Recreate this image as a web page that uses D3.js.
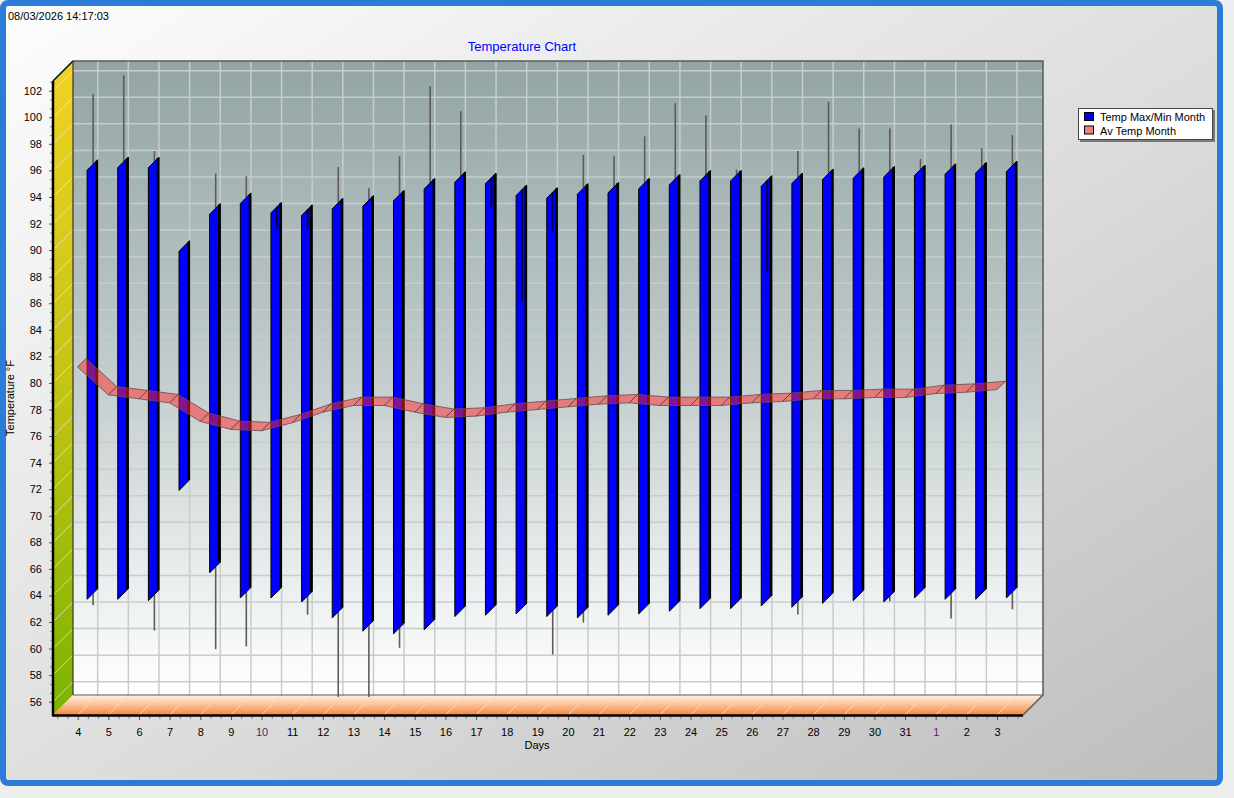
<!DOCTYPE html>
<html>
<head>
<meta charset="utf-8">
<script src="https://cdnjs.cloudflare.com/ajax/libs/d3/7.8.5/d3.min.js"></script>
<style>
body { margin: 0; background: #eeeeee; }
svg { display: block; font-family: "Liberation Sans", Arial, sans-serif; }
</style>
</head>
<body>
<svg width="1234" height="798"></svg>
<script>
// ################################### Data #######################################

var days = ["4", "5", "6", "7", "8", "9", "10", "11", "12", "13", "14", "15", "16", "17", "18", "19",
            "20", "21", "22", "23", "24", "25", "26", "27", "28", "29", "30", "31", "1", "2", "3"];

// body of each candle (month max / month min)
var tempMaxMonth = [95.3, 95.5, 95.5, 89.2, 92.0, 92.8, 92.1, 91.9, 92.4, 92.6, 93.0, 93.9, 94.4, 94.3, 93.4, 93.2,
                    93.5, 93.6, 93.9, 94.2, 94.5, 94.5, 94.1, 94.3, 94.6, 94.7, 94.8, 94.9, 95.0, 95.1, 95.2];
var tempMinMonth = [63.0, 63.0, 62.9, 71.2, 65.0, 63.1, 63.1, 62.8, 61.6, 60.6, 60.4, 60.7, 61.7, 61.8, 61.9, 61.7,
                    61.6, 61.8, 61.9, 62.1, 62.3, 62.3, 62.5, 62.4, 62.7, 62.9, 62.8, 63.1, 63.0, 63.0, 63.1];

// whiskers (day high / day low)
var tempHigh = [100.6, 102.0, 96.3, 89.2, 94.6, 94.4, 90.4, 90.4, 95.1, 93.5, 95.9, 101.2, 99.3, 92.1, 85.0, 90.2,
                96.0, 95.9, 97.4, 99.9, 99.0, 94.9, 87.2, 96.3, 100.0, 98.0, 98.0, 95.7, 98.3, 96.5, 97.5];
var tempLow = [62.1, 63.0, 60.2, 71.2, 58.8, 59.0, 63.1, 61.4, 55.2, 55.2, 58.9, 60.7, 61.7, 61.8, 61.9, 58.4,
               60.8, 61.8, 61.9, 62.1, 62.3, 62.3, 62.5, 61.4, 62.7, 62.9, 62.4, 63.1, 61.1, 63.0, 61.8];

var avTempMonth = [81.2, 79.1, 78.8, 78.5, 77.1, 76.5, 76.4, 77.0, 77.8, 78.3, 78.3, 77.8, 77.4, 77.5, 77.8, 78.0,
                   78.2, 78.4, 78.5, 78.3, 78.3, 78.3, 78.5, 78.6, 78.8, 78.8, 78.9, 78.9, 79.2, 79.3, 79.5];

var yTicks = d3.range(56, 103, 2);

// ################################### Layout #######################################

var svg = d3.select('svg');
var defs = svg.append('defs');

// front plane of the 3d box and the depth offset
var front = {l: 53, r: 1023, t: 81, b: 715};
var depth = {dx: 20, dy: -20};

var barZ = [0.47, 1.0];   // depth slice used by the candles
var whiskerZ = 0.77;
var ribbonZ = 0.42;

var xScale = d3.scaleLinear().domain([-0.806, 30.849]).range([front.l, front.r]);
var yScale = d3.scaleLinear().domain([55, 102.73]).range([front.b, front.t]);

function proj(i, v, z) {
    return [xScale(i) + depth.dx * z, yScale(v) + depth.dy * z];
}

function addGradient(id, x2, y2, stops) {
    var g = defs.append('linearGradient').attr('id', id)
        .attr('x1', 0).attr('y1', 0).attr('x2', x2).attr('y2', y2);
    stops.forEach(function(s) {
        g.append('stop').attr('offset', s[0]).attr('stop-color', s[1]);
    });
}

addGradient('bgGrad', 1, 1, [[0, '#fdfdfd'], [0.55, '#dcdcdc'], [1, '#bdbdbd']]);
addGradient('wallGrad', 0, 1, [[0, '#92a4a4'], [0.5, '#c3cdcd'], [0.85, '#eef1f1'], [1, '#ffffff']]);
addGradient('sideGrad', 0, 1, [[0, '#f0d224'], [0.5, '#c4c414'], [1, '#7cb400']]);
addGradient('floorGrad', 0, 1, [[0, '#fff3ea'], [0.5, '#fbbf94'], [1, '#f5873a']]);

// ################################### Window frame #######################################

svg.append('rect')
    .attr('x', 3).attr('y', 3).attr('width', 1217).attr('height', 780).attr('rx', 5)
    .attr('fill', 'url(#bgGrad)')
    .attr('stroke', '#2b7bd8').attr('stroke-width', 6);

svg.append('text').attr('x', 8).attr('y', 20)
    .attr('font-size', 11).text('08/03/2026 14:17:03');

svg.append('text').attr('x', 522).attr('y', 51)
    .attr('text-anchor', 'middle').attr('font-size', 13).attr('fill', '#0000ff')
    .text('Temperature Chart');

// ################################### Walls #######################################

var wallG = svg.append('g');

// back wall
wallG.append('rect')
    .attr('x', front.l + depth.dx).attr('y', front.t + depth.dy)
    .attr('width', front.r - front.l).attr('height', front.b - front.t)
    .attr('fill', 'url(#wallGrad)');

wallG.selectAll('.hgrid').data(yTicks).enter().append('line')
    .attr('x1', front.l + depth.dx).attr('x2', front.r + depth.dx)
    .attr('y1', function(d) { return yScale(d) + depth.dy; })
    .attr('y2', function(d) { return yScale(d) + depth.dy; })
    .attr('stroke', '#c9cccc').attr('stroke-width', 1.5);

wallG.selectAll('.vgrid').data(days).enter().append('line')
    .attr('x1', function(d, i) { return xScale(i) + depth.dx; })
    .attr('x2', function(d, i) { return xScale(i) + depth.dx; })
    .attr('y1', front.t + depth.dy).attr('y2', front.b + depth.dy)
    .attr('stroke', '#c9cccc').attr('stroke-width', 1.5);

// left side wall
var sidePts = [[front.l, front.t], [front.l + depth.dx, front.t + depth.dy],
               [front.l + depth.dx, front.b + depth.dy], [front.l, front.b]];
wallG.append('polygon').attr('points', sidePts.join(' ')).attr('fill', 'url(#sideGrad)');

wallG.selectAll('.sgrid').data(yTicks).enter().append('line')
    .attr('x1', front.l).attr('x2', front.l + depth.dx)
    .attr('y1', function(d) { return yScale(d); })
    .attr('y2', function(d) { return yScale(d) + depth.dy; })
    .attr('stroke', '#f4f0c0').attr('stroke-opacity', 0.7).attr('stroke-width', 1);

// floor
var floorPts = [[front.l, front.b], [front.r, front.b],
                [front.r + depth.dx, front.b + depth.dy], [front.l + depth.dx, front.b + depth.dy]];
wallG.append('polygon').attr('points', floorPts.join(' ')).attr('fill', 'url(#floorGrad)');

wallG.selectAll('.fgrid').data(days).enter().append('line')
    .attr('x1', function(d, i) { return xScale(i); })
    .attr('x2', function(d, i) { return xScale(i) + depth.dx; })
    .attr('y1', front.b).attr('y2', front.b + depth.dy)
    .attr('stroke', '#ffd8bc').attr('stroke-width', 1);

// box edges
var edgeG = svg.append('g').attr('fill', 'none');
edgeG.append('polyline')
    .attr('points', [[front.l, front.t], [front.l + depth.dx, front.t + depth.dy],
                     [front.r + depth.dx, front.t + depth.dy], [front.r + depth.dx, front.b + depth.dy],
                     [front.r, front.b]].join(' '))
    .attr('stroke', '#5a5a5a').attr('stroke-width', 1.5);
edgeG.append('line')
    .attr('x1', front.l + depth.dx).attr('x2', front.l + depth.dx)
    .attr('y1', front.t + depth.dy).attr('y2', front.b + depth.dy)
    .attr('stroke', '#333').attr('stroke-width', 1.2);
edgeG.append('line')
    .attr('x1', front.l + depth.dx).attr('x2', front.r + depth.dx)
    .attr('y1', front.b + depth.dy).attr('y2', front.b + depth.dy)
    .attr('stroke', '#555').attr('stroke-width', 1.2);

// ################################### Candles #######################################

var candleG = svg.append('g');

// whisker parts outside the body (behind the body)
days.forEach(function(d, i) {
    var xw = proj(i, 0, whiskerZ)[0];
    var yTop = proj(i, tempMaxMonth[i], whiskerZ)[1];
    var yHigh = proj(i, tempHigh[i], whiskerZ)[1];
    var yBot = proj(i, tempMinMonth[i], whiskerZ)[1];
    var yLow = proj(i, tempLow[i], whiskerZ)[1];
    if (tempHigh[i] > tempMaxMonth[i]) {
        candleG.append('line').attr('x1', xw).attr('x2', xw).attr('y1', yHigh).attr('y2', yTop)
            .attr('stroke', '#5c5c5c').attr('stroke-width', 1.6);
    }
    if (tempLow[i] < tempMinMonth[i]) {
        candleG.append('line').attr('x1', xw).attr('x2', xw).attr('y1', yBot).attr('y2', yLow)
            .attr('stroke', '#5c5c5c').attr('stroke-width', 1.6);
    }
});

candleG.selectAll('.body').data(days).enter().append('polygon')
    .attr('points', function(d, i) {
        return [proj(i, tempMaxMonth[i], barZ[0]), proj(i, tempMaxMonth[i], barZ[1]),
                proj(i, tempMinMonth[i], barZ[1]), proj(i, tempMinMonth[i], barZ[0])].join(' ');
    })
    .attr('fill', '#0000ff').attr('stroke', '#000').attr('stroke-width', 1)
    .attr('stroke-linejoin', 'round');

// dark right edge of each body
candleG.selectAll('.edge').data(days).enter().append('line')
    .attr('x1', function(d, i) { return proj(i, 0, barZ[1])[0] - 1; })
    .attr('x2', function(d, i) { return proj(i, 0, barZ[1])[0] - 1; })
    .attr('y1', function(d, i) { return proj(i, tempMaxMonth[i], barZ[1])[1] + 1; })
    .attr('y2', function(d, i) { return proj(i, tempMinMonth[i], barZ[1])[1]; })
    .attr('stroke', '#000').attr('stroke-width', 2.5);

// whisker parts that fall inside the body
days.forEach(function(d, i) {
    var xw = proj(i, 0, whiskerZ)[0];
    if (tempHigh[i] < tempMaxMonth[i]) {
        candleG.append('line').attr('x1', xw).attr('x2', xw)
            .attr('y1', proj(i, tempMaxMonth[i], whiskerZ)[1]).attr('y2', proj(i, tempHigh[i], whiskerZ)[1])
            .attr('stroke', '#000048').attr('stroke-width', 2);
    }
    if (tempLow[i] > tempMinMonth[i]) {
        candleG.append('line').attr('x1', xw).attr('x2', xw)
            .attr('y1', proj(i, tempMinMonth[i], whiskerZ)[1]).attr('y2', proj(i, tempLow[i], whiskerZ)[1])
            .attr('stroke', '#000048').attr('stroke-width', 2);
    }
});

// ################################### Average ribbon #######################################

var ribbonG = svg.append('g');
var segs = d3.range(avTempMonth.length - 1);

ribbonG.selectAll('.seg').data(segs).enter().append('polygon')
    .attr('points', function(i) {
        return [proj(i, avTempMonth[i], 0), proj(i + 1, avTempMonth[i + 1], 0),
                proj(i + 1, avTempMonth[i + 1], ribbonZ), proj(i, avTempMonth[i], ribbonZ)].join(' ');
    })
    .attr('fill', '#ff2828').attr('fill-opacity', 0.5);

var ribbonLine = d3.line()
    .x(function(d) { return d[0]; })
    .y(function(d) { return d[1]; });

[0, ribbonZ].forEach(function(z) {
    ribbonG.append('path')
        .attr('d', ribbonLine(avTempMonth.map(function(v, i) { return proj(i, v, z); })))
        .attr('fill', 'none').attr('stroke', '#6a4a4a').attr('stroke-width', 0.8);
});

ribbonG.selectAll('.cut').data(avTempMonth).enter().append('line')
    .attr('x1', function(v, i) { return proj(i, v, 0)[0]; })
    .attr('y1', function(v, i) { return proj(i, v, 0)[1]; })
    .attr('x2', function(v, i) { return proj(i, v, ribbonZ)[0]; })
    .attr('y2', function(v, i) { return proj(i, v, ribbonZ)[1]; })
    .attr('stroke', '#4a2a2a').attr('stroke-width', 0.8);

// ################################### Axes #######################################

var fontFam = '"Liberation Sans", Arial, sans-serif';

var minorY = d3.range(56, 102.8, 2 / 3).filter(function(v, k) { return k % 3 !== 0; });
svg.append('g').attr('transform', 'translate(' + front.l + ',0)')
    .call(d3.axisLeft(yScale).tickValues(minorY).tickSize(3).tickFormat(''))
    .call(function(g) { g.select('.domain').remove(); })
    .selectAll('line').attr('stroke', '#8a8a8a');

var yAxisG = svg.append('g').attr('transform', 'translate(' + front.l + ',0)')
    .call(d3.axisLeft(yScale).tickValues(yTicks).tickSize(4).tickPadding(7));
yAxisG.select('.domain').remove();
yAxisG.attr('font-size', 11).attr('font-family', fontFam);
yAxisG.selectAll('line').attr('stroke', '#555');
yAxisG.selectAll('text').attr('fill', '#000');

var minorX = d3.range(-0.6667, 30.8, 1 / 3).filter(function(v, k) { return k % 3 !== 2; });
svg.append('g').attr('transform', 'translate(0,' + (front.b + 1) + ')')
    .call(d3.axisBottom(xScale).tickValues(minorX).tickSize(3).tickFormat(''))
    .call(function(g) { g.select('.domain').remove(); })
    .selectAll('line').attr('stroke', '#8a8a8a');

var xAxisG = svg.append('g').attr('transform', 'translate(0,' + (front.b + 1) + ')')
    .call(d3.axisBottom(xScale).tickValues(d3.range(days.length))
        .tickFormat(function(i) { return days[i]; }).tickSize(4).tickPadding(8));
xAxisG.select('.domain').remove();
xAxisG.attr('font-size', 11).attr('font-family', fontFam);
xAxisG.selectAll('line').attr('stroke', '#555');
xAxisG.selectAll('text').attr('fill', function(i) {
    return (days[i] === '10' || days[i] === '1') ? '#5c1f66' : '#000';
});

// thick front edges
svg.append('line').attr('x1', front.l).attr('x2', front.l).attr('y1', front.t).attr('y2', front.b + 1.5)
    .attr('stroke', '#000').attr('stroke-width', 2.5);
svg.append('line').attr('x1', front.l).attr('x2', front.r).attr('y1', front.b + 0.5).attr('y2', front.b + 0.5)
    .attr('stroke', '#000').attr('stroke-width', 2.5);
svg.append('line').attr('x1', front.l).attr('x2', front.l + depth.dx)
    .attr('y1', front.t).attr('y2', front.t + depth.dy)
    .attr('stroke', '#222').attr('stroke-width', 1.5);

svg.append('text').attr('x', 537).attr('y', 749)
    .attr('text-anchor', 'middle').attr('font-size', 11).text('Days');

svg.append('text')
    .attr('transform', 'translate(14,398) rotate(-90)')
    .attr('text-anchor', 'middle').attr('font-size', 11).text('Temperature °F');

// ################################### Legend #######################################

var legendG = svg.append('g').attr('transform', 'translate(1078,108)');
legendG.append('rect').attr('x', 2).attr('y', 2).attr('width', 135).attr('height', 32).attr('fill', '#7a7a7a');
legendG.append('rect').attr('x', 0.5).attr('y', 0.5).attr('width', 134).attr('height', 31)
    .attr('fill', '#fff').attr('stroke', '#444');

var legendItems = [{name: 'Temp Max/Min Month', color: '#0000ff'}, {name: 'Av Temp Month', color: '#f28080'}];
legendItems.forEach(function(item, k) {
    legendG.append('rect').attr('x', 6.5).attr('y', 4.5 + k * 13.5).attr('width', 9).attr('height', 8)
        .attr('fill', item.color).attr('stroke', '#000');
    legendG.append('text').attr('x', 22).attr('y', 13 + k * 13.5)
        .attr('font-size', 11).text(item.name);
});
</script>
</body>
</html>
